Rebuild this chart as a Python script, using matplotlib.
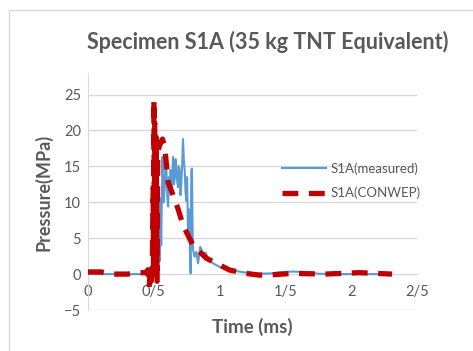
import matplotlib
matplotlib.use("Agg")
import matplotlib.pyplot as plt
from matplotlib.patches import Rectangle

plt.rcParams['font.family'] = ['Lato', 'DejaVu Sans']

# Measured series
t_meas = [0.0, 0.3, 0.52, 0.53, 0.537, 0.545, 0.55, 0.556, 0.566, 0.575, 0.583, 0.59, 0.596,
          0.603, 0.609, 0.615, 0.621, 0.628, 0.634, 0.64, 0.646, 0.653, 0.66, 0.665, 0.67,
          0.677, 0.684, 0.69, 0.697, 0.703, 0.71, 0.716, 0.722, 0.728, 0.735, 0.741, 0.747,
          0.753, 0.76, 0.765, 0.77, 0.775, 0.78, 0.785, 0.79, 0.795, 0.798, 0.81, 0.823,
          0.836, 0.853, 0.874, 0.894, 0.912, 0.95, 1.0, 1.076, 1.2, 1.3, 1.4, 1.45, 1.55,
          1.65, 1.75, 1.9, 2.1, 2.3]
p_meas = [0.0, 0.0, 0.0, 0.1, 6.0, 1.8, 10.5, 4.0, 16.3, 10.0, 12.1, 15.5, 14.4,
          10.5, 9.4, 13.5, 12.1, 14.5, 11.2, 13.0, 16.3, 12.5, 13.5, 16.0, 15.3,
          13.0, 12.1, 15.0, 14.4, 11.0, 13.0, 15.5, 18.8, 16.0, 14.4, 11.5, 10.2,
          13.5, 5.6, 9.0, 8.8, 3.0, 0.1, 14.4, 14.7, 6.0, 3.4, 2.4, 3.1,
          1.5, 3.8, 2.9, 3.0, 2.2, 1.5, 1.0, 0.56, 0.2, 0.05, 0.1, 0.23, 0.35,
          0.3, 0.05, 0.0, 0.0, 0.0]

# CONWEP series
t_conw = [0.0, 0.1, 0.19, 0.3, 0.39, 0.44, 0.455, 0.465, 0.472, 0.48, 0.488, 0.495,
          0.498, 0.501, 0.504, 0.507, 0.51, 0.513, 0.516, 0.519, 0.522, 0.525, 0.53,
          0.545, 0.566, 0.583, 0.609, 0.646, 0.684, 0.722, 0.76, 0.798, 0.836, 0.9,
          0.975, 1.076, 1.2, 1.3, 1.4, 1.55, 1.8, 2.06, 2.31]
p_conw = [0.3, 0.3, 0.0, 0.0, 0.2, 0.2, 0.6, -1.8, 0.5, -1.0, 0.3, 12.0,
          1.0, 24.3, 4.0, 21.0, 0.0, 16.0, 2.0, 19.0, 6.0, -1.0, 17.0,
          18.0, 18.8, 17.7, 12.8, 11.0, 9.1, 6.8, 5.4, 4.0, 3.3, 2.2,
          1.5, 0.56, 0.1, -0.14, -0.1, 0.1, 0.0, 0.2, 0.0]

x_ticks = [0, 0.5, 1, 1.5, 2, 2.5]
x_tick_labels = ["0", "0/5", "1", "1/5", "2", "2/5"]
y_ticks = [-5, 0, 5, 10, 15, 20, 25]

gray = '#595959'
grid_c = '#D9D9D9'

fig = plt.figure(figsize=(4.73, 3.51), dpi=100)
fig.patches.append(Rectangle((9/473, -0.1), 1.2, 1 - 10/351 + 0.1, transform=fig.transFigure,
                             fill=False, edgecolor=grid_c, linewidth=1.0))
ax = fig.add_axes([88/473, 1 - 310/351, (417 - 88)/473, (310 - 73)/351])

ax.plot(t_meas, p_meas, color='#5B9BD5', linewidth=1.5, label='S1A(measured)', zorder=3)
ax.plot(t_conw, p_conw, color='#C00000', linewidth=3.8, dashes=(3.0, 2.0),
        label='S1A(CONWEP)', zorder=4)

ax.set_xlim(0, 2.5)
ax.set_ylim(-5, 28)
ax.set_yticks(y_ticks)
ax.set_xticks(x_ticks)
ax.set_xticklabels(x_tick_labels)
ax.yaxis.grid(True, color=grid_c, linewidth=1.0)
ax.set_axisbelow(True)
for s in ['top', 'right']:
    ax.spines[s].set_visible(False)
ax.spines['left'].set_color(grid_c)
ax.spines['bottom'].set_color(grid_c)
ax.spines['bottom'].set_position(('data', 0))
ax.tick_params(axis='both', length=0, colors=gray, labelsize=10.5)
ax.tick_params(axis='x', pad=8)
ax.tick_params(axis='y', pad=5)

fig.text(268/473, 1 - 42/351, 'Specimen S1A (35 kg TNT Equivalent)', fontsize=15.5,
         fontweight='bold', color=gray, ha='center', va='center')
fig.text(43/473, 1 - 192/351, 'Pressure(MPa)', fontsize=13, fontweight='bold',
         color=gray, rotation=90, ha='center', va='center')
fig.text(252/473, 1 - 327/351, 'Time (ms)', fontsize=13.5, fontweight='bold',
         color=gray, ha='center', va='center')

leg = ax.legend(loc='center left', bbox_to_anchor=(282/473, 1 - 181/351),
                bbox_transform=fig.transFigure, frameon=False, fontsize=9.5,
                handlelength=3.3, handletextpad=0.35, labelspacing=0.9, borderpad=0,
                borderaxespad=0)
for txt in leg.get_texts():
    txt.set_color(gray)

fig.savefig('out.png', dpi=100)
